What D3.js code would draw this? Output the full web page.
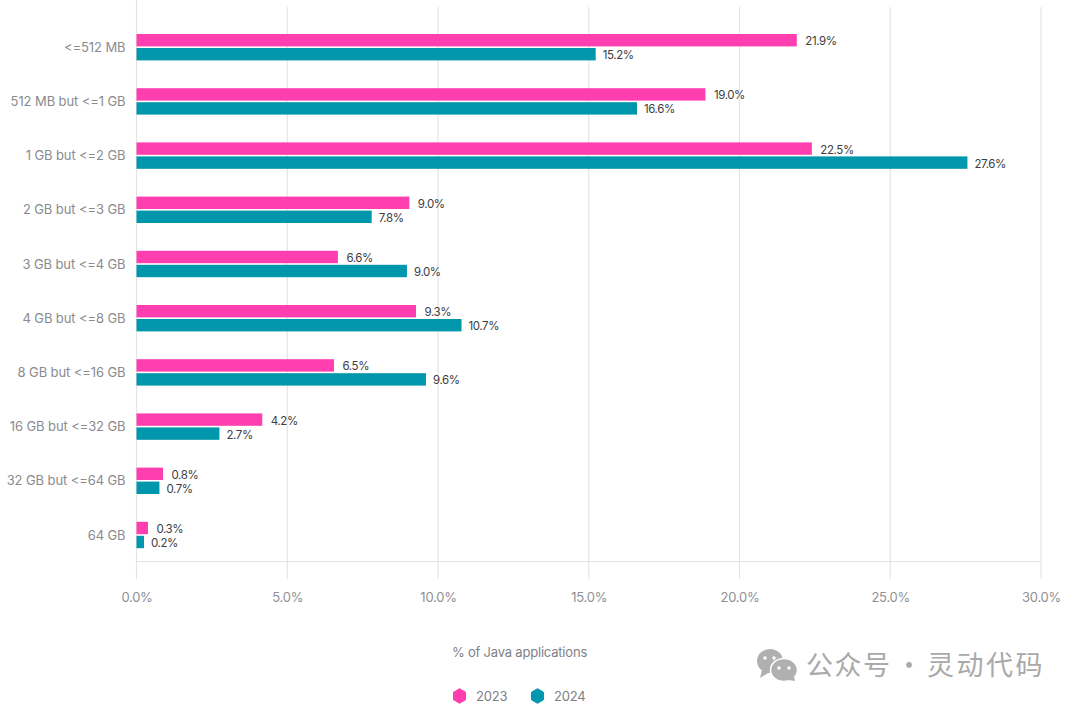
<!DOCTYPE html>
<html><head><meta charset="utf-8">
<script src="https://cdn.jsdelivr.net/npm/d3@7"></script>
<style>html,body{margin:0;padding:0;background:#fff}svg{display:block}text{font-family:Inter,sans-serif}</style>
</head><body><svg id="c" width="1080" height="709"></svg>
<script>
const categories=["<=512 MB","512 MB but <=1 GB","1 GB but <=2 GB","2 GB but <=3 GB","3 GB but <=4 GB","4 GB but <=8 GB","8 GB but <=16 GB","16 GB but <=32 GB","32 GB but <=64 GB","64 GB"];
const seriesNames=["2023","2024"];
const bars2023=[21.9,18.87,22.4,9.05,6.68,9.27,6.55,4.17,0.88,0.38];
const bars2024=[15.23,16.6,27.56,7.8,8.97,10.78,9.6,2.75,0.76,0.25];
const labels2023=["21.9%","19.0%","22.5%","9.0%","6.6%","9.3%","6.5%","4.2%","0.8%","0.3%"];
const labels2024=["15.2%","16.6%","27.6%","7.8%","9.0%","10.7%","9.6%","2.7%","0.7%","0.2%"];
const xTicks=[0,5,10,15,20,25,30];
const colors=["#ff3eb0","#0096ab"];
const svg=d3.select("#c");
const x=d3.scaleLinear().domain([0,30]).range([136.5,1041]);
const y=d3.scaleBand().domain(categories).range([20.5,562.5]).paddingInner(0).paddingOuter(0);
const grid="#e4e4e4";
const g=svg.append("g");
g.selectAll("line.v").data(xTicks).join("line").attr("class","v")
 .attr("x1",d=>x(d)).attr("x2",d=>x(d)).attr("y1",d=>d===0?0:7).attr("y2",579)
 .attr("stroke",grid).attr("stroke-width",1.2);
g.append("line").attr("x1",x(0)).attr("x2",x(30)).attr("y1",561.5).attr("y2",561.5).attr("stroke",grid).attr("stroke-width",1.2);
const axis=d3.axisBottom(x).tickValues(xTicks).tickFormat(d=>d3.format(".1f")(d)+"%").tickSize(0).tickPadding(0);
const ax=svg.append("g").attr("transform","translate(0,602)").call(axis);
ax.select(".domain").remove();
ax.selectAll("text").attr("dy",0).attr("font-size",13).attr("fill","#8f9094").attr("font-family","Inter,sans-serif").style("letter-spacing","-0.25px");
const yAxis=d3.axisLeft(y).tickSize(0).tickPadding(0);
const ay=svg.append("g").attr("transform","translate(125.5,0)").call(yAxis);
ay.select(".domain").remove();
ay.selectAll("text").attr("font-size",13).attr("fill","#8a8b8f").attr("font-family","Inter,sans-serif").style("letter-spacing","-0.1px").attr("dy","0.32em");
const h=12.4;
[[bars2023,labels2023,-13.6,8.5],[bars2024,labels2024,0.4,7]].forEach(([vals,labs,off,gap],s)=>{
  svg.append("g").selectAll("rect").data(vals).join("rect")
   .attr("x",x(0)).attr("width",d=>x(d)-x(0)).attr("y",(d,i)=>y(categories[i])+y.bandwidth()/2+off).attr("height",h).attr("fill",colors[s]);
  svg.append("g").selectAll("text").data(vals).join("text")
   .attr("x",d=>x(d)+gap).attr("y",(d,i)=>y(categories[i])+y.bandwidth()/2+off+h/2+5)
   .attr("font-size",11.5).attr("fill","#3d3d42").style("letter-spacing","-0.4px").text((d,i)=>labs[i]);
});
svg.append("text").attr("x",519.5).attr("y",657).attr("text-anchor","middle").attr("font-size",13).attr("fill","#808186").style("letter-spacing","-0.2px").text("% of Java applications");
const hex=d3.line();
const lx=[459.5,537.5], tx=[476,554];
seriesNames.forEach((n,i)=>{
  const r=7, pts=d3.range(6).map(k=>{const a=Math.PI/3*k+Math.PI/6;return [lx[i]+r*Math.cos(a),696+r*Math.sin(a)*1.05];});
  svg.append("path").attr("d",hex(pts)+"Z").attr("fill",colors[i]).attr("stroke",colors[i]).attr("stroke-linejoin","round");
  svg.append("text").attr("x",tx[i]).attr("y",701).attr("font-size",13).attr("fill","#808186").style("letter-spacing","-0.2px").text(n);
});
const wm=svg.append("g");
wm.append("ellipse").attr("cx",770).attr("cy",661).attr("rx",13).attr("ry",12).attr("fill","#b0b0b0");
wm.append("path").attr("d",d3.line()([[762,670],[760,678],[770,672]])+"Z").attr("fill","#b0b0b0");
wm.append("ellipse").attr("cx",784).attr("cy",670).attr("rx",13.5).attr("ry",11.5).attr("fill","#b0b0b0").attr("stroke","#fff").attr("stroke-width",1.5);
wm.append("path").attr("d",d3.line()([[788,680],[795,681],[793,672]])+"Z").attr("fill","#b0b0b0");
[[765,658],[774,658],[779,668],[789,668]].forEach(p=>wm.append("circle").attr("cx",p[0]).attr("cy",p[1]).attr("r",1.7).attr("fill","#fff"));
const wmFont="'Noto Sans CJK SC'";
svg.append("text").attr("x",806).attr("y",675).attr("font-size",27).attr("fill","#a9a9a9").style("font-family",wmFont).style("letter-spacing","1.5px").text("公众号");
svg.append("text").attr("x",909).attr("y",675).attr("text-anchor","middle").attr("font-size",27).attr("fill","#a9a9a9").style("font-family",wmFont).text("·");
svg.append("text").attr("x",927).attr("y",675).attr("font-size",27).attr("fill","#a9a9a9").style("font-family",wmFont).style("letter-spacing","2.5px").text("灵动代码");
</script></body></html>
